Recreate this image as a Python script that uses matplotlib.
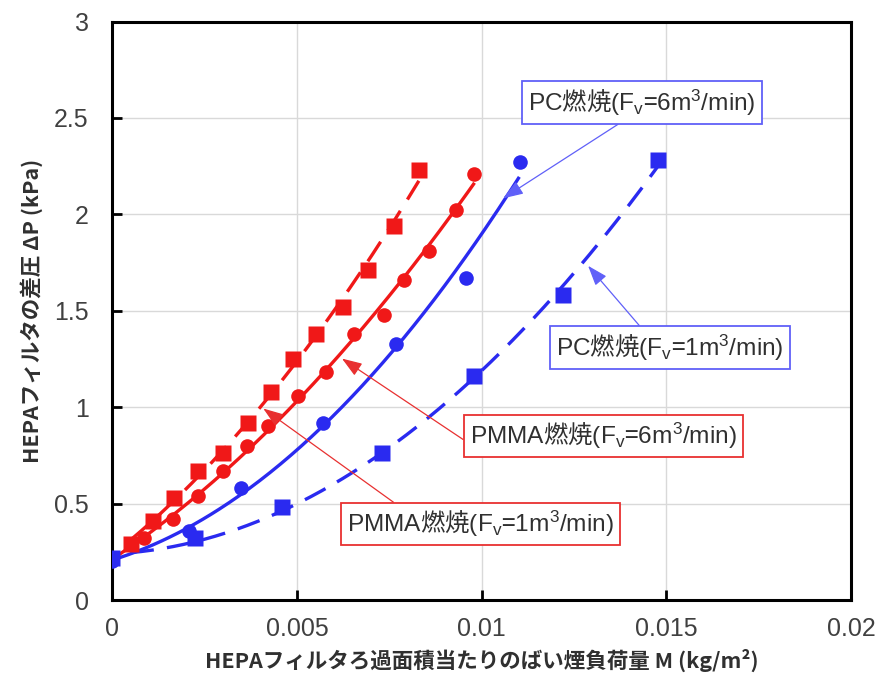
import numpy as np
import matplotlib; matplotlib.use("Agg")
import matplotlib.pyplot as plt

RED = "#f01818"; BLUE = "#2a2af0"
RED_EDGE = "#e83030"; BLUE_EDGE = "#6060f8"
GRAY = "#404040"

plt.rcParams["mathtext.fontset"] = "custom"
plt.rcParams["mathtext.rm"] = "Liberation Sans"
plt.rcParams["mathtext.it"] = "Liberation Sans"

# ── data ──
pmma1_x = [0.00051, 0.00111, 0.00168, 0.00232, 0.00300, 0.00368, 0.00430, 0.00489,
           0.00551, 0.00624, 0.00692, 0.00762, 0.00830]
pmma1_y = [0.29, 0.41, 0.53, 0.67, 0.76, 0.92, 1.08, 1.25, 1.38, 1.52, 1.71, 1.94, 2.23]
pmma6_x = [0.00086, 0.00165, 0.00232, 0.00300, 0.00365, 0.00422, 0.00503, 0.00578,
           0.00654, 0.00735, 0.00789, 0.00857, 0.00930, 0.00978]
pmma6_y = [0.32, 0.42, 0.54, 0.67, 0.80, 0.90, 1.06, 1.18, 1.38, 1.48, 1.66, 1.81, 2.02, 2.21]
pc6_x = [0.0, 0.00208, 0.00349, 0.00570, 0.00768, 0.00957, 0.01105]
pc6_y = [0.20, 0.36, 0.58, 0.92, 1.33, 1.67, 2.27]
pc1_x = [0.0, 0.00225, 0.00461, 0.00730, 0.00979, 0.01219, 0.01478]
pc1_y = [0.22, 0.32, 0.48, 0.76, 1.16, 1.58, 2.28]

x_ticks = [0, 0.005, 0.01, 0.015, 0.02]
x_ticklabels = ["0", "0.005", "0.01", "0.015", "0.02"]
y_ticks = [0, 0.5, 1, 1.5, 2, 2.5, 3]
y_ticklabels = ["0", "0.5", "1", "1.5", "2", "2.5", "3"]

def fit_curve(x, y, x0):
    c = np.polyfit(x, y, 2)
    xs = np.linspace(x0, x[-1], 200)
    return xs, np.polyval(c, xs)

fig = plt.figure(figsize=(8.83, 6.83), dpi=100)
ax = fig.add_axes([0.127, 0.1215, 0.837, 0.847])
ax.set_xlim(0, 0.02); ax.set_ylim(0, 3)

ax.grid(True, color="#d9d9d9", lw=1.0, zorder=0)
ax.set_axisbelow(True)
for s in ax.spines.values():
    s.set_linewidth(2.2); s.set_color("black")

# fitted curves
DASH = (0, (7, 4))
xs, ys = fit_curve(pmma1_x, pmma1_y, pmma1_x[0])
ax.plot(xs, ys, color=RED, lw=2.4, ls=DASH, zorder=2)
xs, ys = fit_curve(pmma6_x, pmma6_y, 0.0002)
ax.plot(xs, ys, color=RED, lw=2.4, zorder=2)
xs, ys = fit_curve(pc1_x, pc1_y, 0.0005)
ax.plot(xs, ys, color=BLUE, lw=2.4, ls=DASH, zorder=2)
xs, ys = fit_curve(pc6_x, pc6_y, 0.0)
ax.plot(xs[xs <= 0.0110], ys[xs <= 0.0110], color=BLUE, lw=2.4, zorder=2)

# markers
ax.plot(pmma1_x, pmma1_y, "s", color=RED, ms=11, mec="none", zorder=3)
ax.plot(pmma6_x, pmma6_y, "o", color=RED, ms=10.5, mec="none", zorder=3)
ax.plot(pc1_x, pc1_y, "s", color=BLUE, ms=11, mec="none", zorder=3)
ax.plot(pc6_x, pc6_y, "o", color=BLUE, ms=10.5, mec="none", zorder=3)

ax.set_xticks(x_ticks, x_ticklabels)
ax.set_yticks(y_ticks, y_ticklabels)
ax.tick_params(direction="in", length=7, width=2, colors="black", labelcolor=GRAY,
               labelsize=18, pad=12)
ax.tick_params(axis="y", pad=17)
for t in ax.get_xticklabels() + ax.get_yticklabels():
    t.set_family("Liberation Sans")

ax.set_xlabel("HEPAフィルタろ過面積当たりのばい煙負荷量 M (kg/m²)", family=["Noto Sans CJK JP", "DejaVu Sans"],
              fontsize=15.5, fontweight="bold", color="#303030", labelpad=6)
ax.set_ylabel("HEPAフィルタの差圧 ΔP (kPa)", family=["Noto Sans CJK JP", "DejaVu Sans"],
              fontsize=15.5, fontweight="bold", color="#303030", labelpad=8)

# callouts
def callout(txt, xy, xytext, relpos, ec):
    ax.annotate(txt, xy=xy, xytext=xytext, ha="center", va="center",
                family="Noto Sans CJK JP", fontsize=17.6, color="#303030",
                bbox=dict(boxstyle="square,pad=0.25", fc="white", ec=ec, lw=1.3),
                arrowprops=dict(arrowstyle="-|>,head_length=0.7,head_width=0.25", color=ec,
                                lw=0.9, relpos=relpos, shrinkA=0, shrinkB=0),
                zorder=5)

def label(fuel, fv):
    return r"$\mathrm{" + fuel + r"}$燃焼$\mathrm{(F_v}$=$\mathrm{" + fv + r"m^3/min)}$"

callout(label("PC", "6"), (0.01058, 2.083), (0.01434, 2.58), (0.44, 0.0), BLUE_EDGE)
callout(label("PC", "1"), (0.01288, 1.733), (0.0151, 1.31), (0.39, 1.0), BLUE_EDGE)
callout(label("PMMA", "6"), (0.00622, 1.252), (0.01329, 0.85), (0.0, 0.24), RED_EDGE)
callout(label("PMMA", "1"), (0.00409, 0.993), (0.00996, 0.394), (0.21, 1.0), RED_EDGE)

fig.savefig("out.png", dpi=100)
